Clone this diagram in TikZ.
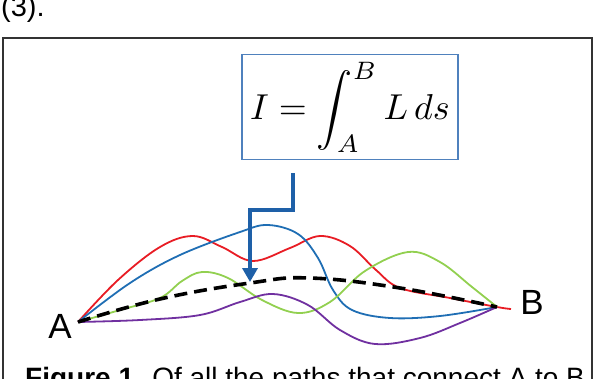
\documentclass[tikz,border=0pt]{standalone}
\usepackage{fontspec}
\setmainfont{Liberation Sans}
\usepackage{graphicx}
\usepackage{tikz}
\usetikzlibrary{arrows.meta,positioning}
\usepackage{xcolor}
\definecolor{boxblue}{RGB}{79,129,189}
\definecolor{arrowblue}{RGB}{30,96,168}
\definecolor{pathred}{RGB}{232,28,36}
\definecolor{pathblue}{RGB}{31,110,180}
\definecolor{pathgreen}{RGB}{146,208,80}
\definecolor{pathpurple}{RGB}{112,48,160}

\begin{document}
\begin{tikzpicture}[
      x=1pt, y=-1pt,
      eqbox/.style={draw=boxblue, line width=1.3pt, fill=white, minimum width=216pt, minimum height=105pt, inner sep=0pt},
      endpt/.style={font=\fontsize{35}{35}\selectfont, inner sep=0pt},
      path/.style={line width=1.8pt, line join=round},
      best/.style={line width=3.6pt, dash pattern=on 13pt off 7pt, black},
      arrow/.style={line width=4pt, draw=arrowblue, -{Triangle[length=14pt,width=15pt]}}
      ]
      \useasboundingbox (0,0) rectangle (596,378);
      \clip (0,0) rectangle (596,378);

      % Frame
      \draw[line width=1.6pt, black!80] (3,400) -- (3,38) -- (592,38) -- (592,400);
      \node[anchor=base west, inner sep=0pt, font=\fontsize{29}{29}\selectfont] (eqno) at (1,16) {(3).};

      % Nodes
      \node (eq) [eqbox] at (350,107) {\scalebox{3.6}{$\displaystyle I=\int_A^B L\,ds$}};
      \coordinate (A) at (78,322);
      \coordinate (B) at (497,307);
      \node (labA) [endpt] at (60,326) {A};
      \node (labB) [endpt] at (532,302) {B};
      \coordinate (tail) at (293,173);
      \coordinate (tip) at (250,282);

      % Paths
      \draw[path, pathred] plot[smooth, tension=0.6] coordinates {(A) (118,280) (160,247) (193,236) (222,247) (253,261) (290,248) (320,236) (350,246) (376,270) (400,288) (450,298) (B) (511,309)};
      \draw[path, pathblue] plot[smooth, tension=0.6] coordinates {(A) (130,283) (180,255) (240,232) (268,225) (298,234) (318,258) (333,290) (352,310) (390,318) (440,316) (B)};
      \draw[path, pathgreen] plot[smooth, tension=0.6] coordinates {(A) (120,310) (160,298) (182,281) (202,272) (228,278) (262,300) (298,313) (330,302) (365,271) (408,252) (440,262) (472,287) (B)};
      \draw[path, pathpurple] plot[smooth, tension=0.6] coordinates {(A) (140,320) (200,315) (240,302) (273,294) (308,305) (340,330) (375,344) (420,338) (460,323) (B)};
      \draw[best] plot[smooth, tension=0.7] coordinates {(A) (160,299) (250,283) (310,278) (400,288) (B)};

      % Arrows
      \draw[arrow] (tail) -- ++(0,37) -| (tip);

      % Caption
      \node[anchor=base west, inner sep=0pt, font=\fontsize{28}{28}\selectfont] (cap) at (25,387) {\textbf{Figure 1.} Of all the paths that connect A to B};
    \end{tikzpicture}
\end{document}
